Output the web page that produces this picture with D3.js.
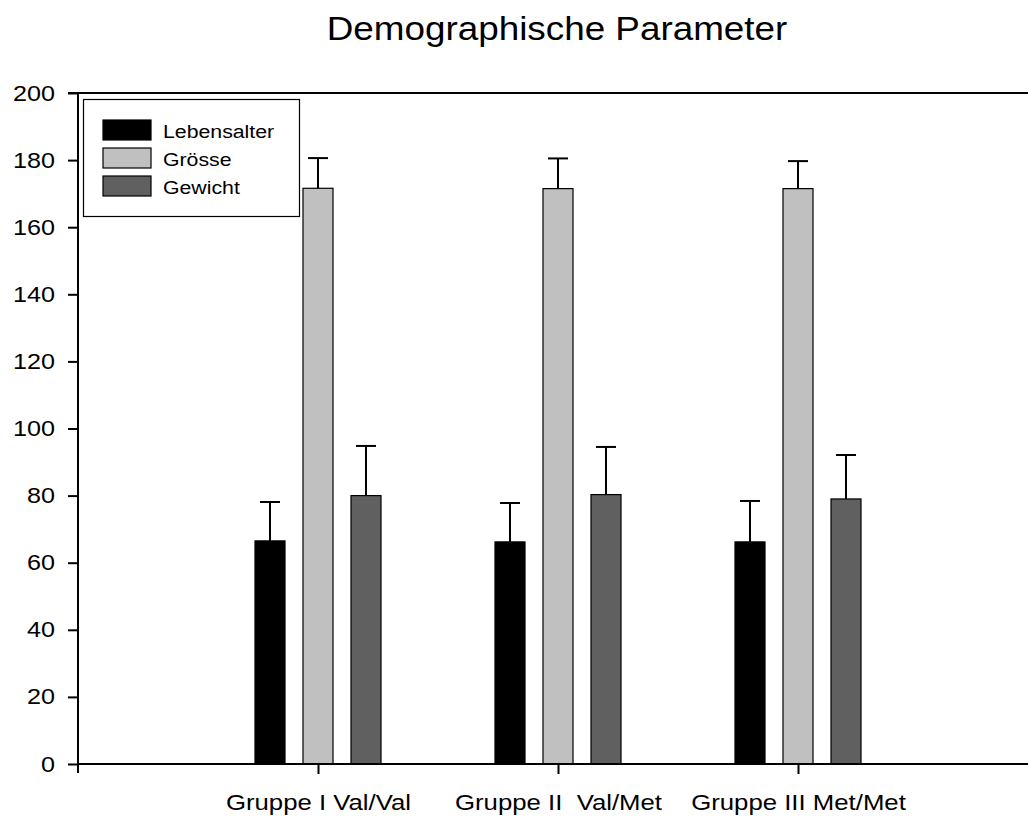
<!DOCTYPE html>
<html>
<head>
<meta charset="utf-8">
<script src="https://cdn.jsdelivr.net/npm/d3@7"></script>
<style>
  body { margin: 0; background: #fff; }
  svg { display: block; font-family: "Liberation Sans", Arial, sans-serif; }
  svg text { white-space: pre; }
</style>
</head>
<body>
<div class="chart"></div>
<script>
const groups = ['Gruppe I Val/Val', 'Gruppe II  Val/Met', 'Gruppe III Met/Met'];
const seriesNames = ['Lebensalter', 'Grösse', 'Gewicht'];
const seriesColors = ['#000000', '#c0c0c0', '#606060'];
const means = [
    [66.5, 66.2, 66.2],
    [171.6, 171.5, 171.5],
    [80.0, 80.3, 79.0]
];
const errors = [
    [11.6, 11.6, 12.2],
    [9.0, 9.0, 8.2],
    [14.8, 14.2, 13.1]
];
const yTicks = [0, 20, 40, 60, 80, 100, 120, 140, 160, 180, 200];

const width = 1028, height = 817;
const stretch = 1.12; // the original text is a bit wider than Liberation Sans
const svg = d3.select('.chart').append('svg')
    .attr('width', width)
    .attr('height', height);

const x0 = 78, yTop = 93, yBottom = 764;

// groups sit at 1,2,3 on a 0..4 axis, right end falls just past the frame
const xScale = d3.scaleLinear().domain([0, 4]).range([x0, x0 + 960]);
const yScale = d3.scaleLinear().domain([0, 200]).range([yBottom, yTop]);
const offsets = [-48, 0, 48];
const barWidth = 30;

svg.append('text')
    .attr('transform', `translate(557,40) scale(1.1,1)`)
    .attr('text-anchor', 'middle')
    .attr('font-size', 33.5)
    .text('Demographische Parameter');

// top frame line
svg.append('line')
    .attr('x1', x0 - 10).attr('x2', width)
    .attr('y1', yTop).attr('y2', yTop)
    .attr('stroke', '#000').attr('stroke-width', 2);

// bars
seriesNames.forEach((name, s) => {
    groups.forEach((g, i) => {
        const cx = xScale(i + 1) + offsets[s];
        const top = yScale(means[s][i]);
        const cap = yScale(means[s][i] + errors[s][i]);
        svg.append('line')
            .attr('x1', cx).attr('x2', cx)
            .attr('y1', top).attr('y2', cap)
            .attr('stroke', '#000').attr('stroke-width', 2);
        svg.append('line')
            .attr('x1', cx - 10).attr('x2', cx + 10)
            .attr('y1', cap).attr('y2', cap)
            .attr('stroke', '#000').attr('stroke-width', 2);
        svg.append('rect')
            .attr('x', cx - barWidth / 2)
            .attr('y', top)
            .attr('width', barWidth)
            .attr('height', yBottom - top)
            .attr('fill', seriesColors[s])
            .attr('stroke', '#000')
            .attr('stroke-width', 1.2);
    });
});

// y axis
const yAxis = svg.append('g')
    .attr('transform', `translate(${x0},0)`)
    .call(d3.axisLeft(yScale).tickValues(yTicks).tickSize(10));
yAxis.select('.domain').remove();
yAxis.selectAll('line').attr('stroke-width', 2);
yAxis.selectAll('text')
    .attr('x', null).attr('dy', null)
    .attr('transform', `translate(-23,7) scale(${stretch},1)`)
    .attr('font-size', 22.5)
    .attr('font-family', '"Liberation Sans", Arial, sans-serif')
    .attr('fill', '#000');
svg.append('line')
    .attr('x1', x0).attr('x2', x0)
    .attr('y1', yTop).attr('y2', yBottom + 9)
    .attr('stroke', '#000').attr('stroke-width', 2);

// x axis
const xAxis = svg.append('g')
    .attr('transform', `translate(0,${yBottom})`)
    .call(d3.axisBottom(xScale).tickValues([1, 2, 3]).tickSize(10).tickFormat((d) => groups[d - 1]));
xAxis.select('.domain').remove();
xAxis.selectAll('line').attr('stroke-width', 2);
xAxis.selectAll('text')
    .attr('y', null).attr('dy', null)
    .attr('transform', `translate(0,46) scale(${stretch},1)`)
    .attr('font-size', 23)
    .attr('font-family', '"Liberation Sans", Arial, sans-serif')
    .attr('fill', '#000');
svg.append('line')
    .attr('x1', x0).attr('x2', width)
    .attr('y1', yBottom).attr('y2', yBottom)
    .attr('stroke', '#000').attr('stroke-width', 2);

// legend
const legend = svg.append('g');
legend.append('rect')
    .attr('x', 83.5).attr('y', 99.5)
    .attr('width', 216).attr('height', 117)
    .attr('fill', '#fff').attr('stroke', '#000').attr('stroke-width', 1.2);
seriesNames.forEach((name, s) => {
    const ly = 120 + s * 28;
    legend.append('rect')
        .attr('x', 103).attr('y', ly)
        .attr('width', 48).attr('height', 20)
        .attr('fill', seriesColors[s]).attr('stroke', '#000').attr('stroke-width', 1.2);
    legend.append('text')
        .attr('transform', `translate(163,${ly + 18}) scale(${stretch},1)`)
        .attr('font-size', 19)
        .text(name);
});
</script>
</body>
</html>
